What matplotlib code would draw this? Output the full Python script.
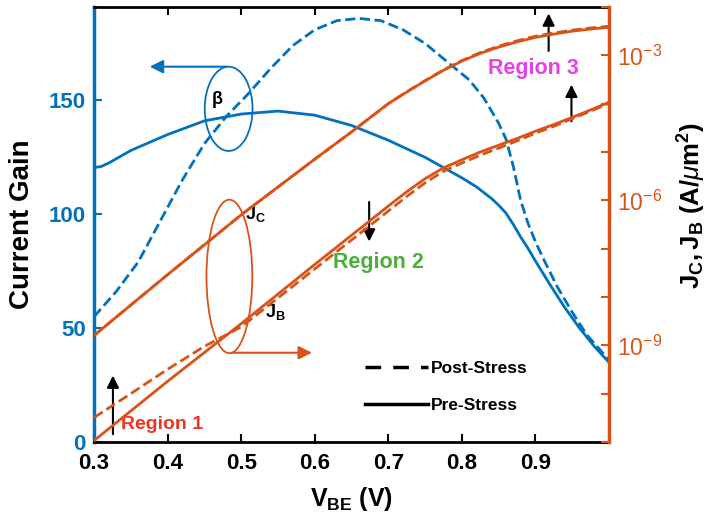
import numpy as np
import matplotlib
matplotlib.use('Agg')
import matplotlib.pyplot as plt
from matplotlib.patches import Ellipse
from matplotlib.lines import Line2D
from matplotlib.ticker import FixedLocator, LogFormatterMathtext, NullFormatter

plt.rcParams['font.family'] = ['Liberation Sans', 'DejaVu Sans']
plt.rcParams['mathtext.fontset'] = 'custom'
plt.rcParams['mathtext.rm'] = 'Liberation Sans'
plt.rcParams['mathtext.bf'] = 'Liberation Sans:bold'
plt.rcParams['mathtext.it'] = 'Liberation Sans:italic'

BLUE = '#0072BD'
ORANGE = '#D95319'

# current gain (left axis)
beta_pre_v = [0.30, 0.31, 0.32, 0.35, 0.40, 0.45, 0.50, 0.55, 0.60, 0.65, 0.70, 0.75,
              0.80, 0.82, 0.84, 0.85, 0.86, 0.87, 0.88, 0.89, 0.90, 0.92, 0.94,
              0.96, 0.98, 1.00]
beta_pre = [120.5, 121, 122.5, 128, 135, 141, 144, 145.3, 143.5, 139, 132.5, 125,
            116, 112, 107, 104, 100.5, 95.5, 90, 85, 79.5, 69, 59,
            50, 42, 35]

beta_post_v = [0.30, 0.33, 0.36, 0.39, 0.42, 0.45, 0.48, 0.51, 0.54, 0.57, 0.60,
               0.63, 0.66, 0.69, 0.72, 0.75, 0.78, 0.81, 0.83, 0.85, 0.86, 0.87,
               0.88, 0.89, 0.90, 0.91, 0.93, 0.95, 0.97, 1.00]
beta_post = [55, 66, 79, 97, 115, 131, 143, 153, 164, 174, 181,
             185, 186, 185, 181, 175, 167, 159, 151, 140, 133, 121,
             106, 96, 88, 81, 68, 57, 47, 36]

# current densities (right axis, A/um^2)
jc_v = [0.30, 0.40, 0.50, 0.60, 0.65, 0.70, 0.725, 0.75, 0.775, 0.80, 0.825,
        0.85, 0.875, 0.90, 0.925, 0.95, 0.975, 1.00]
jc_pre = [1.6e-9, 2.9e-8, 5.0e-7, 7.1e-6, 2.6e-5, 1.0e-4, 1.74e-4, 2.95e-4, 4.9e-4,
          7.6e-4, 1.1e-3, 1.48e-3, 1.9e-3, 2.35e-3, 2.75e-3, 3.16e-3, 3.5e-3, 3.8e-3]
jc_post = [1.6e-9, 2.9e-8, 5.0e-7, 7.1e-6, 2.6e-5, 1.0e-4, 1.76e-4, 3.0e-4, 5.0e-4,
           7.8e-4, 1.14e-3, 1.55e-3, 2.0e-3, 2.48e-3, 2.9e-3, 3.32e-3, 3.68e-3, 4.0e-3]

jb_pre_v = [0.30, 0.40, 0.50, 0.60, 0.70, 0.725, 0.75, 0.775, 0.80, 0.825, 0.85,
            0.875, 0.90, 0.925, 0.95, 0.975, 1.00]
jb_pre = [1.07e-11, 1.8e-10, 2.8e-9, 4.7e-8, 7.6e-7, 1.5e-6, 2.8e-6, 4.7e-6, 6.9e-6,
          1.0e-5, 1.38e-5, 1.9e-5, 2.7e-5, 3.7e-5, 5.2e-5, 7.4e-5, 1.07e-4]

jb_post_v = [0.30, 0.35, 0.40, 0.45, 0.50, 0.60, 0.70, 0.725, 0.75, 0.775, 0.80,
             0.825, 0.85, 0.875, 0.90, 0.925, 0.95, 0.975, 1.00]
jb_post = [3.2e-11, 1.0e-10, 3.2e-10, 9.5e-10, 2.4e-9, 3.8e-8, 6.0e-7, 1.2e-6, 2.3e-6,
           4.0e-6, 5.9e-6, 8.6e-6, 1.2e-5, 1.7e-5, 2.45e-5, 3.4e-5, 4.9e-5, 7.0e-5, 1.02e-4]

xticks = [0.3, 0.4, 0.5, 0.6, 0.7, 0.8, 0.9]
yticks = [0, 50, 100, 150]


def main():
    fig = plt.figure(figsize=(7.15, 5.31), dpi=100)
    ax = fig.add_axes([0.1315, 0.1676, 0.7202, 0.8192])
    ax2 = ax.twinx()

    ax.plot(beta_pre_v, beta_pre, color=BLUE, lw=2)
    ax.plot(beta_post_v, beta_post, color=BLUE, lw=2, ls='--')

    ax2.plot(jc_v, jc_post, color=ORANGE, lw=2, ls='--')
    ax2.plot(jc_v, jc_pre, color=ORANGE, lw=2)
    ax2.plot(jb_post_v, jb_post, color=ORANGE, lw=2, ls='--')
    ax2.plot(jb_pre_v, jb_pre, color=ORANGE, lw=2)

    ax.set_xlim(0.3, 1.0)
    ax.set_ylim(0, 191)
    ax2.set_yscale('log')
    ax2.set_ylim(1e-11, 1e-2)

    ax.set_xticks(xticks)
    ax.set_xticklabels(['%.1f' % t for t in xticks], fontsize=16, fontweight='bold')
    ax.set_yticks(yticks)
    ax.set_yticklabels([str(t) for t in yticks], fontsize=16, fontweight='bold', color=BLUE)
    ax.tick_params(axis='x', direction='in', top=True, length=6, width=1.5, pad=8)
    ax.tick_params(axis='y', direction='in', colors=BLUE, length=6, width=1.5, pad=6)

    ax2.yaxis.set_major_locator(FixedLocator([1e-9, 1e-6, 1e-3]))
    ax2.yaxis.set_minor_locator(FixedLocator([10.0 ** k for k in range(-11, -1)]))
    ax2.yaxis.set_major_formatter(LogFormatterMathtext())
    ax2.yaxis.set_minor_formatter(NullFormatter())
    ax2.tick_params(axis='y', which='both', direction='in', colors=ORANGE,
                    length=6, width=1.5, labelsize=16.5, pad=6)

    for s in ['left', 'top', 'bottom']:
        ax2.spines[s].set_visible(False)
    ax.spines['right'].set_visible(False)
    ax.spines['left'].set_color(BLUE)
    ax2.spines['right'].set_color(ORANGE)
    for s in ax.spines.values():
        s.set_linewidth(2)
    ax.spines['left'].set_linewidth(2.5)
    ax2.spines['right'].set_linewidth(2.5)

    ax.set_ylabel('Current Gain', fontsize=20, fontweight='bold', labelpad=10)
    ax.set_xlabel(r'$\mathbf{V_{BE}}$ (V)', fontsize=18, fontweight='bold', labelpad=8)
    ax2.set_ylabel(r'$\mathbf{J_C, J_B\ (A/}\mu\mathbf{m^2)}$', fontsize=18.5,
                   fontweight='bold')
    ax2.yaxis.set_label_coords(1.13, 0.5425)

    # beta marker ellipse and arrow
    ax.add_patch(Ellipse((0.483, 146.3), 0.065, 37, fill=False, ec=BLUE, lw=1.3))
    ax.annotate('', xy=(0.372, 164.8), xytext=(0.484, 164.8),
                arrowprops=dict(arrowstyle='-|>', color=BLUE, lw=1.5, mutation_scale=20))
    ax.text(0.468, 150.6, r'$\mathbf{\beta}$', fontsize=13, ha='center', va='center')

    # J marker ellipse and arrow
    ax.add_patch(Ellipse((0.484, 72.7), 0.0623, 67.4, fill=False, ec=ORANGE, lw=1.3))
    ax.annotate('', xy=(0.6, 39.2), xytext=(0.484, 39.2),
                arrowprops=dict(arrowstyle='-|>', color=ORANGE, lw=1.5, mutation_scale=20))
    ax.text(0.5195, 100, r'$\mathbf{J_C}$', fontsize=13, ha='center', va='center')
    ax.text(0.5466, 57.3, r'$\mathbf{J_B}$', fontsize=13, ha='center', va='center')

    # regions
    ax.text(0.392, 7.5, 'Region 1', fontsize=14, fontweight='bold', color='#EE3524',
            ha='center', va='center')
    ax.text(0.686, 78.9, 'Region 2', fontsize=15.5, fontweight='bold', color='#4CAF3A',
            ha='center', va='center')
    ax.text(0.8976, 164.0, 'Region 3', fontsize=15.5, fontweight='bold', color='#E83FE8',
            ha='center', va='center')
    arrows = [((0.3257, 2.2), (0.3257, 30.4)),
              ((0.674, 106.6), (0.674, 86.8)),
              ((0.918, 170.5), (0.918, 189.4)),
              ((0.949, 139.6), (0.949, 158.1))]
    for tail, tip in arrows:
        ax.annotate('', xy=tip, xytext=tail,
                    arrowprops=dict(arrowstyle='-|>', color='black', lw=1.5, mutation_scale=18))

    handles = [Line2D([], [], color='black', lw=2.5, ls=(0, (4.5, 3.5))),
               Line2D([], [], color='black', lw=2.5)]
    ax.legend(handles, ['Post-Stress', 'Pre-Stress'], loc='center left',
              bbox_to_anchor=(0.5105, 0.2712), bbox_transform=fig.transFigure,
              frameon=False, borderpad=0, borderaxespad=0, handlelength=3.6,
              handletextpad=0.2, labelspacing=1.3,
              prop={'size': 12.5, 'weight': 'bold'})

    fig.savefig('out.png', dpi=100)


if __name__ == '__main__':
    main()
